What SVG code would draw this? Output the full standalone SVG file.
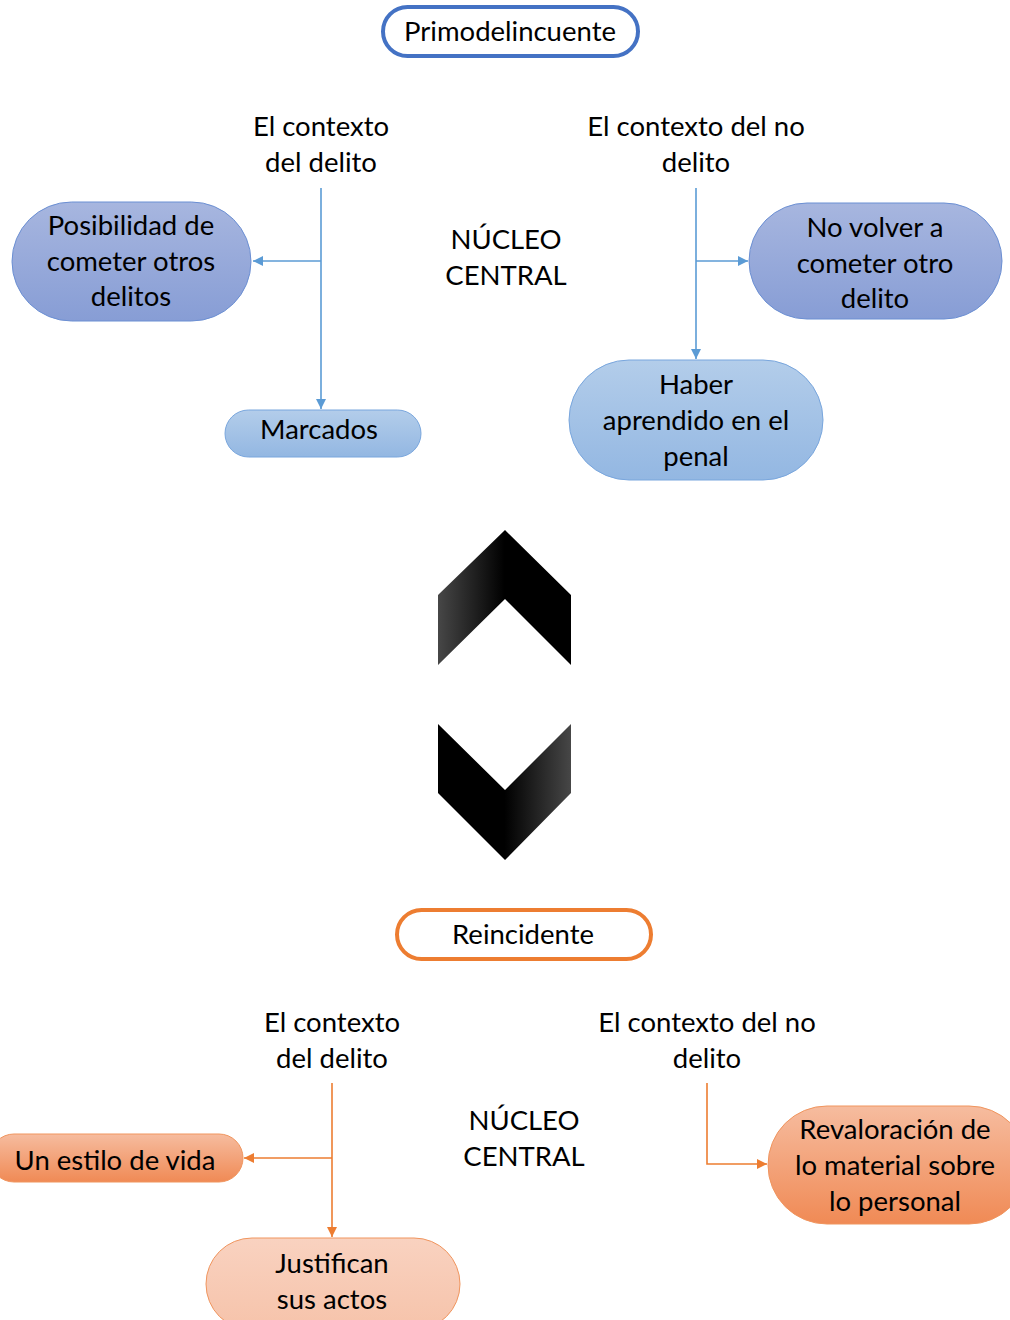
<svg xmlns="http://www.w3.org/2000/svg" width="1010" height="1320" viewBox="0 0 1010 1320">
  <defs>
    <linearGradient id="gBlueDark" x1="0" y1="0" x2="0" y2="1">
      <stop offset="0" stop-color="#a7b6df"/>
      <stop offset="1" stop-color="#879dd5"/>
    </linearGradient>
    <linearGradient id="gBlueLight" x1="0" y1="0" x2="0" y2="1">
      <stop offset="0" stop-color="#b3cdea"/>
      <stop offset="1" stop-color="#93b7e2"/>
    </linearGradient>
    <linearGradient id="gOrangeDark" x1="0" y1="0" x2="0" y2="1">
      <stop offset="0" stop-color="#f6bc9f"/>
      <stop offset="1" stop-color="#f08a55"/>
    </linearGradient>
    <linearGradient id="gOrangeLight" x1="0" y1="0" x2="0" y2="1">
      <stop offset="0" stop-color="#f9d2c0"/>
      <stop offset="1" stop-color="#f6c3aa"/>
    </linearGradient>
    <linearGradient id="gChevUp" x1="438" y1="0" x2="571" y2="0" gradientUnits="userSpaceOnUse">
      <stop offset="0" stop-color="#474747"/>
      <stop offset="0.5" stop-color="#000"/>
      <stop offset="1" stop-color="#000"/>
    </linearGradient>
    <linearGradient id="gChevDown" x1="438" y1="0" x2="571" y2="0" gradientUnits="userSpaceOnUse">
      <stop offset="0" stop-color="#000"/>
      <stop offset="0.5" stop-color="#000"/>
      <stop offset="1" stop-color="#474747"/>
    </linearGradient>
    <marker id="arrBlue" viewBox="0 0 10 10" refX="10" refY="5" markerWidth="10" markerHeight="10" markerUnits="userSpaceOnUse" orient="auto">
      <path d="M0,0 L10,5 L0,10 z" fill="#5b9bd5"/>
    </marker>
    <marker id="arrOrange" viewBox="0 0 10 10" refX="10" refY="5" markerWidth="10" markerHeight="10" markerUnits="userSpaceOnUse" orient="auto">
      <path d="M0,0 L10,5 L0,10 z" fill="#ed7d31"/>
    </marker>
  </defs>
  <style>
    text { font-family: Lato, "Open Sans", "Liberation Sans", sans-serif; font-size: 27.5px; fill: #000; text-anchor: middle; }
    .blue { stroke: #5b9bd5; stroke-width: 1.6; fill: none; }
    .orange { stroke: #ed7d31; stroke-width: 1.6; fill: none; }
    .nb { stroke: #6b8fd3; stroke-width: 1; }
    .nlb { stroke: #79a6dd; stroke-width: 1; }
    .no { stroke: #f0955e; stroke-width: 1; }
  </style>
  <rect width="1010" height="1320" fill="#fff"/>

  <!-- Upper section -->
  <g id="primodelincuente">
    <rect x="383" y="7" width="255" height="49" rx="24.5" fill="#fff" stroke="#4472c4" stroke-width="4"/>
    <text x="510" y="41">Primodelincuente</text>
  </g>
  <g id="contexto-delito-1">
    <text x="321" y="136">El contexto</text>
    <text x="321" y="172">del delito</text>
  </g>
  <g id="contexto-no-delito-1">
    <text x="696" y="136">El contexto del no</text>
    <text x="696" y="172">delito</text>
  </g>
  <g id="nucleo-1">
    <text x="506" y="249">NÚCLEO</text>
    <text x="506" y="285">CENTRAL</text>
  </g>
  <g id="posibilidad">
    <rect x="12" y="202" width="239" height="119" rx="59.5" fill="url(#gBlueDark)" class="nb"/>
    <text x="131" y="235">Posibilidad de</text>
    <text x="131" y="271">cometer otros</text>
    <text x="131" y="306">delitos</text>
  </g>
  <g id="marcados">
    <rect x="225" y="410" width="196" height="47" rx="23.5" fill="url(#gBlueLight)" class="nlb"/>
    <text x="319" y="439">Marcados</text>
  </g>
  <g id="no-volver">
    <rect x="749" y="203" width="253" height="116" rx="58" fill="url(#gBlueDark)" class="nb"/>
    <text x="875" y="237">No volver a</text>
    <text x="875" y="273">cometer otro</text>
    <text x="875" y="308">delito</text>
  </g>
  <g id="haber">
    <rect x="569" y="360" width="254" height="120" rx="60" fill="url(#gBlueLight)" class="nlb"/>
    <text x="696" y="394">Haber</text>
    <text x="696" y="430">aprendido en el</text>
    <text x="696" y="466">penal</text>
  </g>

  <!-- Chevrons -->
  <g id="chevron-up">
    <polygon points="438,595 505,530 571,595 571,665 505,599 438,665" fill="url(#gChevUp)"/>
  </g>
  <g id="chevron-down">
    <polygon points="438,724 505,790 571,724 571,793 505,860 438,793" fill="url(#gChevDown)"/>
  </g>

  <!-- Lower section -->
  <g id="reincidente">
    <rect x="397" y="910" width="254" height="49" rx="24.5" fill="#fff" stroke="#ed7d31" stroke-width="4"/>
    <text x="523" y="944">Reincidente</text>
  </g>
  <g id="contexto-delito-2">
    <text x="332" y="1032">El contexto</text>
    <text x="332" y="1068">del delito</text>
  </g>
  <g id="contexto-no-delito-2">
    <text x="707" y="1032">El contexto del no</text>
    <text x="707" y="1068">delito</text>
  </g>
  <g id="nucleo-2">
    <text x="524" y="1130">NÚCLEO</text>
    <text x="524" y="1166">CENTRAL</text>
  </g>
  <g id="estilo-vida">
    <rect x="-10" y="1134" width="253" height="48" rx="24" fill="url(#gOrangeDark)" class="no"/>
    <text x="115" y="1170">Un estilo de vida</text>
  </g>
  <g id="justifican">
    <rect x="206" y="1238" width="254" height="92" rx="46" fill="url(#gOrangeLight)" class="no"/>
    <text x="332" y="1273">Justifican</text>
    <text x="332" y="1309">sus actos</text>
  </g>
  <g id="revaloracion">
    <rect x="768" y="1106" width="260" height="118" rx="59" fill="url(#gOrangeDark)" class="no"/>
    <text x="895" y="1139">Revaloración de</text>
    <text x="895" y="1175">lo material sobre</text>
    <text x="895" y="1211">lo personal</text>
  </g>

  <!-- Connectors -->
  <g id="connectors">
    <path class="blue" d="M321,188 V409" marker-end="url(#arrBlue)"/>
    <path class="blue" d="M321,261 H253" marker-end="url(#arrBlue)"/>
    <path class="blue" d="M696,188 V359" marker-end="url(#arrBlue)"/>
    <path class="blue" d="M696,261 H748" marker-end="url(#arrBlue)"/>
    <path class="orange" d="M332,1083 V1237" marker-end="url(#arrOrange)"/>
    <path class="orange" d="M332,1158 H244" marker-end="url(#arrOrange)"/>
    <path class="orange" d="M707,1083 V1164 H767" marker-end="url(#arrOrange)"/>
  </g>
</svg>
